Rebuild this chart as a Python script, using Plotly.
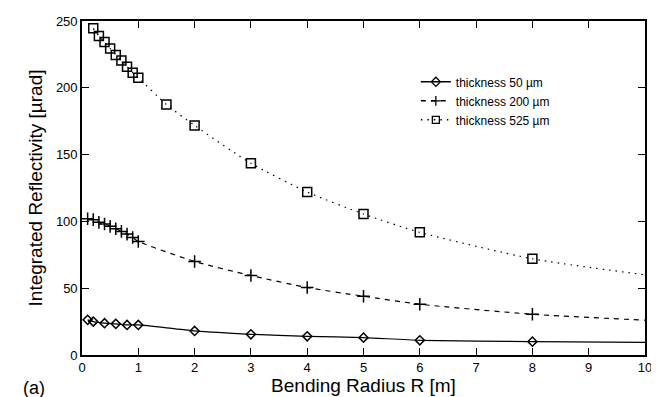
import plotly.graph_objects as go

# ---- data ----
x50 = [0.1, 0.2, 0.4, 0.6, 0.8, 1.0, 2, 3, 4, 5, 6, 8]
y50 = [26.3, 25.0, 23.8, 23.3, 22.5, 22.5, 18.0, 15.5, 14.0, 13.0, 11.0, 10.0]
x200 = [0.1, 0.2, 0.3, 0.4, 0.5, 0.6, 0.7, 0.8, 0.9, 1.0, 2, 3, 4, 5, 6, 8]
y200 = [102, 101.3, 99.3, 98, 96.3, 94.5, 92.5, 90.5, 88, 85, 70, 59.5, 50.5, 44, 38, 30.5]
x525 = [0.2, 0.3, 0.4, 0.5, 0.6, 0.7, 0.8, 0.9, 1.0, 1.5, 2, 3, 4, 5, 6, 8]
y525 = [244.5, 238.8, 234.3, 229.5, 224.6, 220.5, 215.8, 211.3, 207.5, 187.5, 171.8, 143.5, 122, 105.5, 91.8, 72]
# fitted curve end values at R = 10 m
fit_end_x = 10
fit_end_50 = 9.5
fit_end_200 = 26
fit_end_525 = 60

names = ["thickness 50 µm", "thickness 200 µm", "thickness 525 µm"]
xticks = [0, 1, 2, 3, 4, 5, 6, 7, 8, 9, 10]
yticks = [0, 50, 100, 150, 200, 250]

series = [
    (x50, y50, fit_end_50, "solid", "diamond-open", 7),
    (x200, y200, fit_end_200, "5px,5px", "cross-thin-open", 9),
    (x525, y525, fit_end_525, "1.5px,5px", "square-open", 9),
]

fig = go.Figure()
for (xs, ys, yend, dash, sym, msz), name in zip(series, names):
    fig.add_trace(go.Scatter(
        x=xs + [fit_end_x], y=ys + [yend], mode="lines",
        line=dict(color="black", width=1.2, dash=dash, shape="spline", smoothing=0.6),
        showlegend=False, hoverinfo="skip"))
    fig.add_trace(go.Scatter(
        x=xs, y=ys, mode="markers", name=name,
        marker=dict(symbol=sym, size=msz, color="black", line=dict(color="black", width=1.5)),
        showlegend=False))
    # legend entry (line + marker)
    fig.add_trace(go.Scatter(
        x=[None], y=[None], mode="lines+markers", name=name,
        line=dict(color="black", width=1.5, dash=dash),
        marker=dict(symbol=sym, size=7, color="black", line=dict(color="black", width=1.3))))

font = "Liberation Sans, Arial, sans-serif"
axis_common = dict(
    showline=True, linecolor="black", linewidth=1.6, mirror="ticks",
    ticks="inside", ticklen=7, tickcolor="black", tickwidth=1.3,
    showgrid=False, zeroline=False, automargin=False,
    tickfont=dict(family=font, size=13, color="black"),
)
fig.update_xaxes(range=[0, 10], tickvals=xticks,
                 title=dict(text="Bending Radius R [m]", font=dict(family=font, size=19, color="black"), standoff=0),
                 **axis_common)
fig.update_yaxes(range=[0, 250], tickvals=yticks,
                 title=dict(text="Integrated Reflectivity [µrad]", font=dict(family=font, size=19, color="black"), standoff=8),
                 **axis_common)

fig.add_annotation(text="(a)", xref="paper", yref="paper", x=-0.108, y=-0.099,
                   xanchor="left", yanchor="middle", showarrow=False,
                   font=dict(family=font, size=18, color="black"))

fig.update_layout(
    width=659, height=397,
    margin=dict(l=74, r=22, t=13, b=50),
    paper_bgcolor="white", plot_bgcolor="white",
    font=dict(family=font, color="black"),
    legend=dict(x=0.593, y=0.761, xanchor="left", yanchor="middle",
                bgcolor="rgba(0,0,0,0)", font=dict(family=font, size=12, color="black"),
                tracegroupgap=0, itemwidth=30),
)

fig.write_html("out.html")
